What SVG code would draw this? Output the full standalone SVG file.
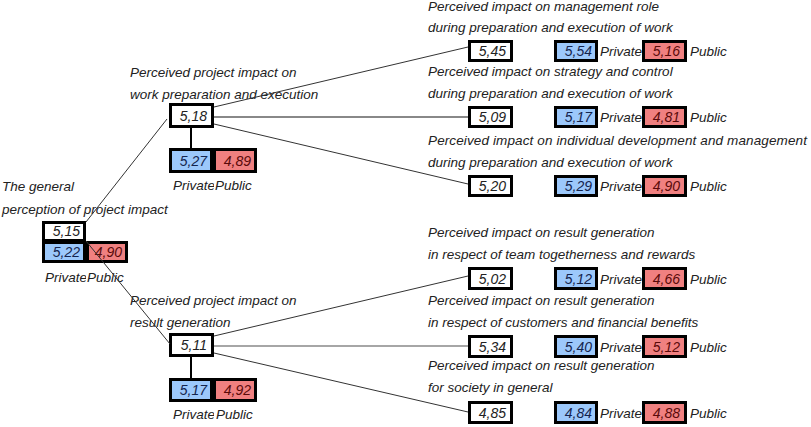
<svg xmlns="http://www.w3.org/2000/svg" width="811" height="427" viewBox="0 0 811 427">
<style>
text{font-family:"Liberation Sans",Arial,sans-serif;font-style:italic;font-size:13.5px;fill:#222}
.w{fill:#fff;stroke:#000;stroke-width:3}
.b{fill:#9cc8fb;stroke:#000;stroke-width:3}
.r{fill:#f08080;stroke:#000;stroke-width:3}
.n{text-anchor:end;font-size:14px}
.nb{text-anchor:end;font-size:14px;fill:#14244e}
.nr{text-anchor:end;font-size:14px;fill:#5a0a0a}
.ln{stroke:#333;stroke-width:1;fill:none}
.lg{stroke:#888;stroke-width:2;fill:none}
.stub{stroke:#000;stroke-width:2}
</style>
<defs>
<clipPath id="cRoot"><rect x="0" y="265" width="86" height="30"/></clipPath>
<clipPath id="cMid1"><rect x="160" y="175" width="54" height="25"/></clipPath>
<clipPath id="cMid2"><rect x="160" y="404" width="54" height="23"/></clipPath>
</defs>

<g id="root">
<text x="2" y="191">The general</text>
<text x="2" y="214">perception of project impact</text>
<rect class="w" x="43.5" y="222.5" width="41" height="18"/>
<text class="n" x="80" y="236">5,15</text>
<rect class="b" x="43.5" y="242.5" width="41" height="19"/>
<text class="nb" x="80" y="257">5,22</text>
<rect class="r" x="87.5" y="242.5" width="39" height="19"/>
<text class="nr" x="122" y="257">4,90</text>
<text x="45" y="282" clip-path="url(#cRoot)">Private</text>
<text x="87" y="282">Public</text>
</g>

<g id="mid1">
<text x="130" y="77">Perceived project impact on</text>
<text x="130" y="99">work preparation and execution</text>
<rect class="w" x="170.5" y="104.5" width="42" height="22"/>
<text class="n" x="207" y="121">5,18</text>
<rect class="b" x="170.5" y="149.5" width="41" height="22"/>
<text class="nb" x="207" y="166">5,27</text>
<rect class="r" x="214.5" y="149.5" width="41" height="22"/>
<text class="nr" x="251" y="166">4,89</text>
<text x="173" y="190" clip-path="url(#cMid1)">Private</text>
<text x="215" y="190">Public</text>
</g>

<g id="mid2">
<text x="130" y="305">Perceived project impact on</text>
<text x="130" y="327">result generation</text>
<rect class="w" x="170.5" y="334.5" width="42" height="21"/>
<text class="n" x="207" y="350">5,11</text>
<rect class="b" x="170.5" y="379.5" width="41" height="21"/>
<text class="nb" x="207" y="395">5,17</text>
<rect class="r" x="214.5" y="379.5" width="41" height="21"/>
<text class="nr" x="251" y="395">4,92</text>
<text x="173" y="419" clip-path="url(#cMid2)">Private</text>
<text x="216" y="419">Public</text>
</g>

<g id="leaf1">
<text x="428" y="11">Perceived impact on management role</text>
<text x="428" y="32">during preparation and execution of work</text>
<rect class="w" x="469.5" y="41.5" width="42" height="19"/>
<text class="n" x="506" y="56">5,45</text>
<rect class="b" x="555.5" y="41.5" width="41" height="19"/>
<text class="nb" x="592" y="56">5,54</text>
<text x="600" y="56">Private</text>
<rect class="r" x="643.5" y="41.5" width="42" height="19"/>
<text class="nr" x="680" y="56">5,16</text>
<text x="690" y="56">Public</text>
</g>

<g id="leaf2">
<text x="428" y="76">Perceived impact on strategy and control</text>
<text x="428" y="98">during preparation and execution of work</text>
<rect class="w" x="469.5" y="107.5" width="42" height="19"/>
<text class="n" x="506" y="122">5,09</text>
<rect class="b" x="555.5" y="107.5" width="41" height="19"/>
<text class="nb" x="592" y="122">5,17</text>
<text x="600" y="122">Private</text>
<rect class="r" x="643.5" y="107.5" width="42" height="19"/>
<text class="nr" x="680" y="122">4,81</text>
<text x="690" y="122">Public</text>
</g>

<g id="leaf3">
<text x="428" y="145" textLength="379" lengthAdjust="spacing">Perceived impact on individual development and management</text>
<text x="428" y="167">during preparation and execution of work</text>
<rect class="w" x="469.5" y="176.5" width="42" height="19"/>
<text class="n" x="506" y="191">5,20</text>
<rect class="b" x="555.5" y="176.5" width="41" height="19"/>
<text class="nb" x="592" y="191">5,29</text>
<text x="600" y="191">Private</text>
<rect class="r" x="643.5" y="176.5" width="42" height="19"/>
<text class="nr" x="680" y="191">4,90</text>
<text x="690" y="191">Public</text>
</g>

<g id="leaf4">
<text x="428" y="237">Perceived impact on result generation</text>
<text x="428" y="259">in respect of team togetherness and rewards</text>
<rect class="w" x="469.5" y="268.5" width="42" height="20"/>
<text class="n" x="506" y="284">5,02</text>
<rect class="b" x="555.5" y="268.5" width="41" height="20"/>
<text class="nb" x="592" y="284">5,12</text>
<text x="600" y="284">Private</text>
<rect class="r" x="643.5" y="268.5" width="42" height="20"/>
<text class="nr" x="680" y="284">4,66</text>
<text x="690" y="284">Public</text>
</g>

<g id="leaf5">
<text x="428" y="305">Perceived impact on result generation</text>
<text x="428" y="327">in respect of customers and financial benefits</text>
<rect class="w" x="469.5" y="336.5" width="42" height="20"/>
<text class="n" x="506" y="352">5,34</text>
<rect class="b" x="555.5" y="336.5" width="41" height="20"/>
<text class="nb" x="592" y="352">5,40</text>
<text x="600" y="352">Private</text>
<rect class="r" x="643.5" y="336.5" width="42" height="20"/>
<text class="nr" x="680" y="352">5,12</text>
<text x="690" y="352">Public</text>
</g>

<g id="leaf6">
<text x="428" y="370">Perceived impact on result generation</text>
<text x="428" y="392">for society in general</text>
<rect class="w" x="469.5" y="402.5" width="42" height="20"/>
<text class="n" x="506" y="418">4,85</text>
<rect class="b" x="555.5" y="402.5" width="41" height="20"/>
<text class="nb" x="592" y="418">4,84</text>
<text x="600" y="418">Private</text>
<rect class="r" x="643.5" y="402.5" width="42" height="20"/>
<text class="nr" x="680" y="418">4,88</text>
<text x="690" y="418">Public</text>
</g>

<g id="connectors">
<line class="ln" x1="86" y1="222" x2="167" y2="119"/>
<line class="ln" x1="86" y1="241" x2="170" y2="344"/>
<line class="ln" x1="214" y1="107" x2="468" y2="47"/>
<line class="lg" x1="214" y1="117" x2="468" y2="117"/>
<line class="ln" x1="214" y1="124" x2="468" y2="184"/>
<line class="ln" x1="214" y1="336" x2="468" y2="276"/>
<line class="lg" x1="214" y1="346" x2="468" y2="346" style="stroke-width:1.5"/>
<line class="ln" x1="214" y1="353" x2="468" y2="412"/>
<line class="stub" x1="191" y1="128" x2="191" y2="148"/>
<line class="stub" x1="191" y1="357" x2="191" y2="378"/>
</g>
</svg>
